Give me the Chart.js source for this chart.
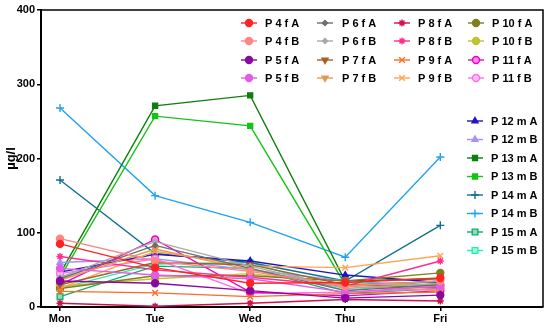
<!DOCTYPE html>
<html>
<head>
<meta charset="utf-8">
<script src="https://cdn.jsdelivr.net/npm/chart.js@4.4.1/dist/chart.umd.min.js"></script>
<style>
  body { margin: 0; background: #fff; }
  #wrap { width: 550px; height: 328px; }
</style>
</head>
<body>
<div id="wrap"><canvas id="chart" width="550" height="328"></canvas></div>
<script>
// Days on the x axis
const days = ['Mon', 'Tue', 'Wed', 'Thu', 'Fri'];
const yTicks = [0, 100, 200, 300, 400];

// Values per sample (µg/l), Mon..Fri
const p4fA = [85, 53, 32, 33, 39];
const p4fB = [92, 62, 48, 28, 35];
const p5fA = [35, 32, 22, 12, 16];
const p5fB = [52, 43, 38, 20, 28];
const p6fA = [38, 83, 52, 22, 30];
const p6fB = [40, 88, 55, 25, 32];
const p7fA = [30, 60, 57, 30, 26];
const p7fB = [36, 78, 50, 28, 22];
const p8fA = [5, 1, 5, 10, 8];
const p8fB = [68, 50, 40, 28, 62];
const p9fA = [21, 19, 14, 18, 20];
const p9fB = [25, 75, 55, 53, 69];
const p10fA = [25, 42, 42, 35, 46];
const p10fB = [28, 38, 45, 30, 30];
const p11fA = [30, 91, 20, 15, 22];
const p11fB = [45, 65, 18, 20, 25];
const p12mA = [47, 71, 62, 43, 33];
const p12mB = [60, 65, 50, 35, 28];
const p13mA = [45, 271, 285, 35, 38];
const p13mB = [40, 257, 244, 30, 34];
const p14mA = [171, 72, 60, 35, 110];
const p14mB = [268, 150, 114, 67, 202];
const p15mA = [14, 55, 52, 18, 25];
const p15mB = [25, 58, 60, 22, 36];

// label, values, colour, marker
const series = [
    ['P 4 f A', p4fA, '#ff2424', 'circle'],
    ['P 4 f B', p4fB, '#ff8585', 'circle'],
    ['P 5 f A', p5fA, '#8a0aa0', 'circle'],
    ['P 5 f B', p5fB, '#e45ce4', 'circle'],
    ['P 6 f A', p6fA, '#6e6e6e', 'diamond'],
    ['P 6 f B', p6fB, '#a9a9a9', 'diamond'],
    ['P 7 f A', p7fA, '#a2622a', 'tridown'],
    ['P 7 f B', p7fB, '#e49a52', 'tridown'],
    ['P 8 f A', p8fA, '#d0124c', 'star'],
    ['P 8 f B', p8fB, '#ff2e8e', 'star'],
    ['P 9 f A', p9fA, '#ff6a24', 'x'],
    ['P 9 f B', p9fB, '#ffa452', 'x'],
    ['P 10 f A', p10fA, '#7f7f1e', 'circle'],
    ['P 10 f B', p10fB, '#c2c232', 'circle'],
    ['P 11 f A', p11fA, '#ec00c8', 'ring'],
    ['P 11 f B', p11fB, '#ff6ee4', 'ring'],
    ['P 12 m A', p12mA, '#2412c4', 'triangle'],
    ['P 12 m B', p12mB, '#a293ff', 'triangle'],
    ['P 13 m A', p13mA, '#0e7e0e', 'square'],
    ['P 13 m B', p13mB, '#14c414', 'square'],
    ['P 14 m A', p14mA, '#0f7090', 'plus'],
    ['P 14 m B', p14mB, '#22a2f2', 'plus'],
    ['P 15 m A', p15mA, '#10ae6e', 'sqring'],
    ['P 15 m B', p15mB, '#22f0b2', 'sqring']
];

function markerOpts(kind) {
    switch (kind) {
        case 'diamond': return { pointStyle: 'rectRot', radius: 2.5, rotation: 0 };
        case 'tridown': return { pointStyle: 'triangle', radius: 3.5, rotation: 180 };
        case 'triangle': return { pointStyle: 'triangle', radius: 3.5, rotation: 0 };
        case 'star': return { pointStyle: 'star', radius: 3.5, rotation: 0 };
        case 'x': return { pointStyle: 'crossRot', radius: 4, rotation: 0 };
        case 'plus': return { pointStyle: 'cross', radius: 4, rotation: 0 };
        case 'square': return { pointStyle: 'rect', radius: 3.5, rotation: 0 };
        case 'sqring': return { pointStyle: 'rect', radius: 4, rotation: 0 };
        case 'ring': return { pointStyle: 'circle', radius: 3.5, rotation: 0 };
        default: return { pointStyle: 'circle', radius: 3.5, rotation: 0 };
    }
}

function lighter(hex) {
    const n = parseInt(hex.slice(1), 16);
    const r = (n >> 16) & 255, g = (n >> 8) & 255, b = n & 255;
    const mix = c => Math.round(c + (255 - c) * 0.55);
    return `rgb(${mix(r)}, ${mix(g)}, ${mix(b)})`;
}

const datasets = series.map(([label, values, color, kind]) => {
    const m = markerOpts(kind);
    const hollow = kind === 'ring' || kind === 'sqring';
    return {
        label: label,
        data: values.map((v, i) => ({ x: i, y: v })),
        borderColor: color,
        backgroundColor: hollow ? lighter(color) : color,
        borderWidth: 1.4,
        pointStyle: m.pointStyle,
        pointRadius: m.radius,
        pointRotation: m.rotation,
        pointBorderWidth: 1.4,
        pointBorderColor: color,
        pointBackgroundColor: hollow ? lighter(color) : color,
        tension: 0,
        kind: kind
    };
});

// Legend in two groups inside the plot, plus the thin frame on top/right
const legendPlugin = {
    id: 'legendPlugin',
    afterDraw(chart) {
        const ctx = chart.ctx;
        const area = chart.chartArea;
        ctx.save();
        ctx.strokeStyle = '#000';
        ctx.lineWidth = 1.5;
        ctx.beginPath();
        ctx.moveTo(area.left, area.top);
        ctx.lineTo(area.right, area.top);
        ctx.lineTo(area.right, area.bottom);
        ctx.stroke();

        ctx.font = 'bold 11px "Liberation Sans", Arial, sans-serif';
        ctx.textBaseline = 'middle';
        ctx.textAlign = 'left';

        const drawEntry = (ds, mx, tx, y) => {
            ctx.strokeStyle = ds.borderColor;
            ctx.lineWidth = 1.4;
            ctx.beginPath();
            ctx.moveTo(mx - 8, y);
            ctx.lineTo(mx + 8, y);
            ctx.stroke();
            ctx.fillStyle = ds.pointBackgroundColor;
            ctx.strokeStyle = ds.pointBorderColor;
            Chart.helpers.drawPoint(ctx, {
                pointStyle: ds.pointStyle,
                radius: ds.pointRadius,
                rotation: ds.pointRotation,
                borderWidth: 1.4
            }, mx, y);
            ctx.fillStyle = '#000';
            ctx.fillText(ds.label, tx, y + 0.5);
        };

        const ds = chart.data.datasets;
        const colMarker = [249, 325, 402, 476];
        const colText = [265, 342, 418, 492];
        const rowY = [23, 41, 60, 78];
        // female samples: 16 entries, 4 columns, column-major
        for (let i = 0; i < 16; i++) {
            const col = Math.floor(i / 4);
            const row = i % 4;
            drawEntry(ds[i], colMarker[col], colText[col], rowY[row]);
        }
        // male samples: 8 entries, one column
        for (let i = 16; i < 24; i++) {
            drawEntry(ds[i], 475, 491, 121 + (i - 16) * 18.5);
        }
        ctx.restore();
    }
};

const tickFont = { family: '"Liberation Sans", Arial, sans-serif', size: 11, weight: 'bold' };

new Chart(document.getElementById('chart'), {
    type: 'line',
    data: { datasets: datasets },
    options: {
        responsive: false,
        animation: false,
        layout: { padding: { left: 0, top: 10, right: 7, bottom: 0 } },
        plugins: {
            legend: { display: false },
            tooltip: { enabled: false }
        },
        scales: {
            x: {
                type: 'linear',
                min: -0.2,
                max: 5.08,
                afterBuildTicks: scale => {
                    scale.ticks = days.map((d, i) => ({ value: i }));
                },
                afterFit: scale => { scale.height = 21; },
                ticks: {
                    color: '#000',
                    font: tickFont,
                    padding: 1,
                    maxRotation: 0,
                    autoSkip: false,
                    callback: v => days[v] || ''
                },
                grid: { drawOnChartArea: false, drawTicks: true, tickLength: 4, color: '#000', lineWidth: 1.5 },
                border: { color: '#000', width: 2 }
            },
            y: {
                min: 0,
                max: 400,
                afterBuildTicks: scale => {
                    scale.ticks = yTicks.map(v => ({ value: v }));
                },
                afterFit: scale => { scale.width = 41; },
                ticks: { color: '#000', font: tickFont, padding: 2 },
                grid: { drawOnChartArea: false, drawTicks: true, tickLength: 4, color: '#000', lineWidth: 1.5 },
                border: { color: '#000', width: 2 },
                title: {
                    display: true,
                    text: 'µg/l',
                    color: '#000',
                    font: { family: '"Liberation Sans", Arial, sans-serif', size: 13, weight: 'bold' },
                    padding: { top: 4, bottom: 0 }
                }
            }
        }
    },
    plugins: [legendPlugin]
});
</script>
</body>
</html>
